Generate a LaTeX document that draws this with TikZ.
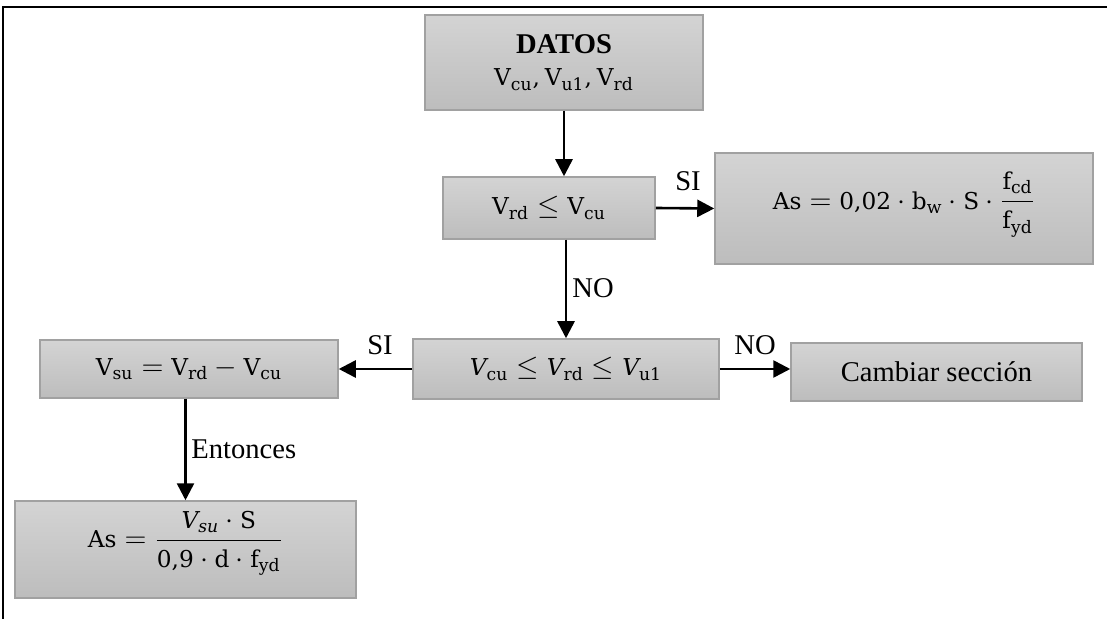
\documentclass[tikz,border=0pt]{standalone}
\usepackage{amsmath}
\usepackage{fontspec}
\setmainfont{Liberation Serif}
\newfontfamily\mfont[Scale=0.86]{DejaVu Serif}
\usetikzlibrary{arrows.meta}
\DeclareMathSizes{13.5}{13.5}{10}{8}

% upright and italic letters for the formulas
\newcommand\mt[1]{\text{\mfont #1}}
\newcommand\mi[1]{\text{\mfont\itshape #1}}
\newcommand\wordsize{\fontsize{14.3}{17}\selectfont}

\tikzset{
  flowbox/.style={draw=black!37, line width=0.75pt, top color=black!17, bottom color=black!26,
    inner sep=0pt, align=center, font=\fontsize{13.5}{17}\selectfont},
  flowarrow/.style={line width=1.3pt, -{Triangle[length=8.5pt,width=8.5pt]}},
  tag/.style={font=\wordsize, inner sep=0pt},
  frameline/.style={line width=1.3pt}
}

\begin{document}
\begin{tikzpicture}[x=0.5pt, y=-0.5pt]
\useasboundingbox (0,0) rectangle (1107,619);

% page frame (top and left edges)
\coordinate (fr-top-right) at (1107,7);
\coordinate (fr-corner) at (3,7);
\coordinate (fr-bottom-left) at (3,619);
\draw[frameline] (fr-top-right) -- (fr-corner) -- (fr-bottom-left);

% boxes
\node[flowbox, minimum width=139pt, minimum height=47.5pt] (datos) at (564,62.5)
  {{\wordsize\textbf{DATOS}}\\[-1pt] $\mt{V}_{\mt{cu}}\mt{,}\,\mt{V}_{\mt{u1}}\mt{,}\,\mt{V}_{\mt{rd}}$};
\node[flowbox, minimum width=106pt, minimum height=31pt] (vrd) at (549,208)
  {$\mt{V}_{\mt{rd}}\leq\mt{V}_{\mt{cu}}$};
\node[flowbox, minimum width=189pt, minimum height=55.5pt] (astop) at (904,208.5)
  {\raisebox{2pt}[\height][\depth]{$\mt{As}=\mt{0,02}\cdot\mt{b}_{\mt{w}}\cdot\mt{S}\cdot\dfrac{\mt{f}_{\mt{cd}}}{\mt{f}_{\mt{yd}}}$}};
\node[flowbox, minimum width=153pt, minimum height=30pt] (mid) at (566,369)
  {$\mi{V}_{\mt{cu}}\leq\mi{V}_{\mt{rd}}\leq\mi{V}_{\mt{u1}}$};
\node[flowbox, minimum width=145.5pt, minimum height=29pt, font=\wordsize] (camb) at (936.5,372)
  {Cambiar sección};
\node[flowbox, minimum width=149pt, minimum height=29pt] (vsu) at (189,369)
  {$\mt{V}_{\mt{su}}=\mt{V}_{\mt{rd}}-\mt{V}_{\mt{cu}}$};
\node[flowbox, minimum width=170.5pt, minimum height=48.5pt] (asbot) at (185.5,549.5)
  {\raisebox{3pt}[\height][\depth]{$\mt{As}=\dfrac{\mi{V}_{\mi{su}}\cdot\mt{S}}{\mt{0,9}\cdot\mt{d}\cdot\mt{f}_{\mt{yd}}}$}};

% connectors
\draw[flowarrow] (datos.south) -- (datos.south |- vrd.north);
\draw[flowarrow] (vrd.east) -- (astop.west);
\draw[flowarrow] (mid.north |- vrd.south) -- (mid.north);
\draw[flowarrow] (mid.east) -- (mid.east -| camb.west);
\draw[flowarrow] (mid.west) -- (vsu.east);
\draw[flowarrow] (asbot.north |- vsu.south) -- (asbot.north);

% labels
\node[tag] (l-si1) at (688,181) {SI};
\node[tag] (l-no1) at (593,288) {NO};
\node[tag] (l-si2) at (380,345) {SI};
\node[tag] (l-no2) at (755,345) {NO};
\node[tag, anchor=west] (l-ent) at (191,449) {Entonces};
\end{tikzpicture}
\end{document}
